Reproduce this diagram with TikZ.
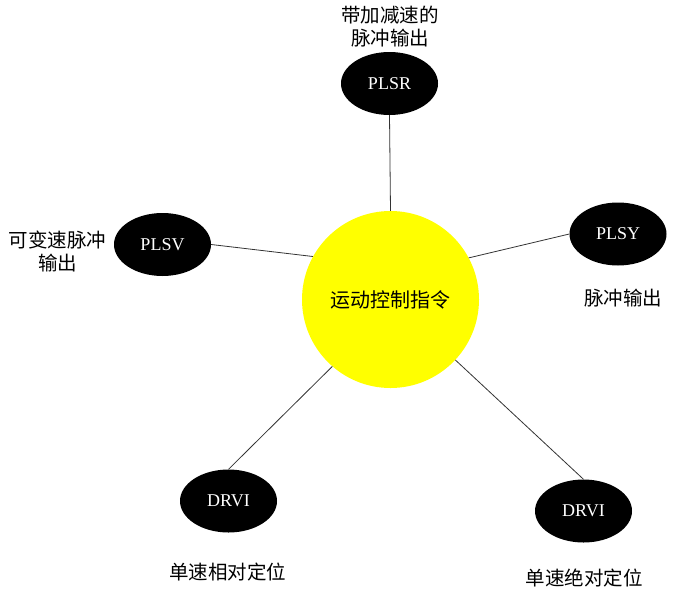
\documentclass[tikz,border=0pt]{standalone}
\usepackage{fontspec}
\setmainfont{Liberation Serif}
\newfontfamily\cjk{Noto Sans CJK SC}
\usetikzlibrary{shapes.geometric}
\definecolor{ylw}{RGB}{255,255,0}
\begin{document}
\begin{tikzpicture}[x=1pt,y=-1pt,
  op/.style={ellipse, fill=black, minimum width=97pt, minimum height=63pt, inner sep=0pt, text=white, font=\fontsize{18}{18}\selectfont},
  lab/.style={font=\cjk\fontsize{19.5}{23}\selectfont, align=center, inner sep=0pt},
  link/.style={draw=black!80, line width=0.8pt}]
\useasboundingbox (0,0) rectangle (684,608);
\node[circle, fill=ylw, minimum size=177pt, inner sep=0pt, font=\cjk\fontsize{20}{20}\selectfont] (main) at (390.5,299.5) {运动控制指令};
\node[op] (plsr) at (389.5,83.5) {PLSR};
\node[op] (plsv) at (162.5,244.5) {PLSV};
\node[op] (plsy) at (618,234) {PLSY};
\node[op] (drvia) at (228.5,501) {DRVI};
\node[op] (drvib) at (583.5,511) {DRVI};
\node[lab] (lplsr) at (390,26.5) {带加减速的\\脉冲输出};
\node[lab] (lplsv) at (57.5,251) {可变速脉冲\\输出};
\node[lab] (lplsy) at (623,298) {脉冲输出};
\node[lab] (ldrvia) at (227.5,572) {单速相对定位};
\node[lab] (ldrvib) at (584,578) {单速绝对定位};
\draw[link] (plsr.south) -- (main.north);
\draw[link] (plsv.east) -- (main.151.5);
\draw[link] (plsy.west) -- (main.28.7);
\draw[link] (drvia.north) -- (main.229);
\draw[link] (drvib.north) -- (main.317);
\end{tikzpicture}
\end{document}
